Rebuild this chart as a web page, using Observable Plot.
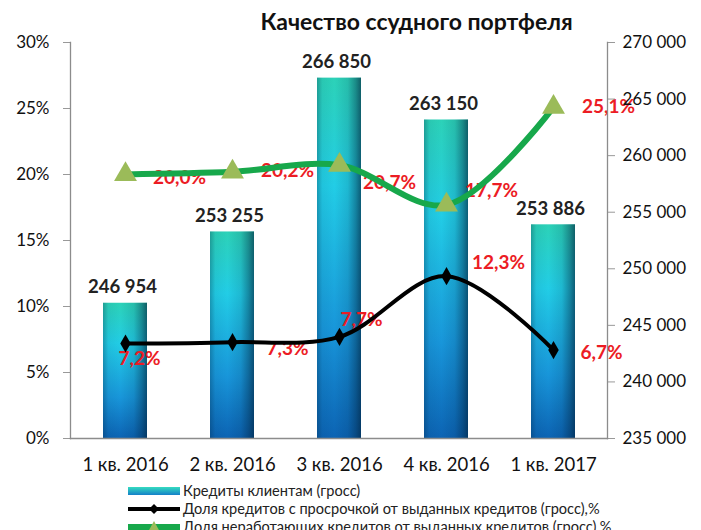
<!DOCTYPE html>
<html><head><meta charset="utf-8">
<script src="https://cdn.jsdelivr.net/npm/d3@7"></script>
<script src="https://cdn.jsdelivr.net/npm/@observablehq/plot@0.6"></script>
<style>
html,body{margin:0;padding:0;background:#fff;}
body{width:701px;height:530px;overflow:hidden;font-family:Lato,"Open Sans",sans-serif;color:#111;position:relative}
#title{position:absolute;left:0;top:7px;width:701px;text-align:center;padding-left:132px;box-sizing:border-box;font-weight:bold;font-size:23px;line-height:28px;color:#111}
#chart{position:absolute;left:0;top:30px}
#legend{position:absolute;left:128px;top:482px;font-size:14.6px;line-height:18px;color:#222}
.li{display:flex;align-items:center;height:18px}
.li svg{margin-right:3px}
</style></head><body>
<div id="title">Качество ссудного портфеля</div>
<div id="chart"></div>
<div id="legend"></div>
<script>
const quarters = ["1 кв. 2016","2 кв. 2016","3 кв. 2016","4 кв. 2016","1 кв. 2017"];
const loans = [246954, 253255, 266850, 263150, 253886];
const overdueShare = [7.2, 7.3, 7.7, 12.3, 6.7];
const npShare = [20.0, 20.2, 20.7, 17.7, 25.1];
const leftTicks = [0, 5, 10, 15, 20, 25, 30];
const rightTicks = [235000, 240000, 245000, 250000, 255000, 260000, 265000, 270000];
const seriesNames = ["Кредиты клиентам (гросс)", "Доля кредитов с просрочкой от выданных кредитов (гросс),%", "Доля неработающих кредитов от выданных кредитов (гросс),%"];

const rMin = 235000, rMax = 270000, lMax = 30;
const toLeft = v => (v - rMin) / (rMax - rMin) * lMax;
const fromLeft = t => Math.round(t / lMax * (rMax - rMin) + rMin);
const fmtThousands = n => String(n).replace(/\B(?=(\d{3})+(?!\d))/g, " ");
const fmtPct = v => v.toFixed(1).replace(".", ",") + "%";

const data = quarters.map((q, i) => ({q, i, loans: loans[i], od: overdueShare[i], np: npShare[i]}));
const pick = k => data.filter(d => d.i === k);

const red = "#ec1c24";
const lblFont = {fill: red, fontWeight: "bold", fontSize: 19};

const odOffsets = [[14,15],[55,7],[22,-17],[52,-13],[48,3]];
const npOffsets = [[54,3],[55,-1],[50,18],[45,-14],[55,0]];

const marks = [
  Plot.barY(data, {x: "q", y1: 0, y2: d => toLeft(d.loans), fill: "url(#barGrad)"}),
  Plot.barY(data, {x: "q", y1: 0, y2: d => toLeft(d.loans), fill: "url(#barShade)"}),
  Plot.text(data, {x: "q", y: d => toLeft(d.loans), text: d => fmtThousands(d.loans), dx: -3, dy: -16, fontWeight: "bold", fontSize: 18.5, fill: "#222"}),
  ...npOffsets.map((o, k) => Plot.text(pick(k), {x: "q", y: "np", text: d => fmtPct(d.np), dx: o[0], dy: o[1], ...lblFont})),
  Plot.line(data, {x: "q", y: "np", stroke: "#17a84b", strokeWidth: 6, curve: "catmull-rom"}),
  Plot.dot(data, {x: "q", y: "np", symbol: "triangle", r: 8.5, fill: "#9bbb59", stroke: "none"}),
  ...odOffsets.map((o, k) => Plot.text(pick(k), {x: "q", y: "od", text: d => fmtPct(d.od), dx: o[0], dy: o[1], ...lblFont})),
  Plot.line(data, {x: "q", y: "od", stroke: "#000", strokeWidth: 4, curve: "catmull-rom"}),
  Plot.dot(data, {x: "q", y: "od", symbol: "diamond", r: 5.5, fill: "#000", stroke: "none"}),
  Plot.axisY(leftTicks, {anchor: "left", tickFormat: d => d + "%", tickSize: 7, tickPadding: 14, fontSize: 17, stroke: "#999", fill: "#111"}),
  Plot.axisY(rightTicks.map(toLeft), {anchor: "right", tickFormat: t => fmtThousands(fromLeft(t)), tickSize: 7, tickPadding: 8, fontSize: 17, stroke: "#999", fill: "#111"}),
  Plot.axisX({tickSize: 0, tickPadding: 19, fontSize: 18.5, fill: "#111"}),
  Plot.frame({anchor: "left", stroke: "#8c8c8c", strokeWidth: 1.3}),
  Plot.frame({anchor: "right", stroke: "#8c8c8c", strokeWidth: 1.3}),
  Plot.frame({anchor: "bottom", stroke: "#8c8c8c", strokeWidth: 1.3})
];

const chart = Plot.plot({
  width: 701, height: 450,
  marginLeft: 70, marginRight: 94, marginTop: 12, marginBottom: 42,
  style: {fontFamily: "Lato, 'Open Sans', sans-serif", background: "transparent", overflow: "visible"},
  x: {domain: quarters, paddingInner: 0.59, paddingOuter: 0.295, label: null},
  y: {domain: [0, lMax], label: null},
  marks
});

const svg = d3.select(chart);
const defs = svg.insert("defs", ":first-child");
const g1 = defs.append("linearGradient").attr("id", "barGrad").attr("x1", 0).attr("y1", 0).attr("x2", 0).attr("y2", 1);
[["0%", "#2cd2b8"], ["30%", "#22cde6"], ["70%", "#1896da"], ["100%", "#0c64b4"]].forEach(([o, c]) => g1.append("stop").attr("offset", o).attr("stop-color", c));
const g2 = defs.append("linearGradient").attr("id", "barShade").attr("x1", 0).attr("y1", 0).attr("x2", 1).attr("y2", 0);
[["0%", 0.3], ["12%", 0.06], ["40%", 0], ["70%", 0.12], ["88%", 0.4], ["100%", 0.65]].forEach(([o, a]) => g2.append("stop").attr("offset", o).attr("stop-color", "#00203a").attr("stop-opacity", a));
document.getElementById("chart").appendChild(chart);

const swatches = [
  `<svg width="52" height="10"><defs><linearGradient id="lg0" x1="0" y1="0" x2="0" y2="1"><stop offset="0" stop-color="#35dcc0"/><stop offset="1" stop-color="#1480c8"/></linearGradient></defs><rect x="0" y="1" width="52" height="8" fill="url(#lg0)"/></svg>`,
  `<svg width="52" height="10"><line x1="0" y1="5" x2="52" y2="5" stroke="#000" stroke-width="4"/><path d="M26 0L31 5L26 10L21 5Z" fill="#000"/></svg>`,
  `<svg width="52" height="12"><line x1="0" y1="6" x2="52" y2="6" stroke="#17a84b" stroke-width="6"/><path d="M26 0L32 11L20 11Z" fill="#9bbb59"/></svg>`
];
document.getElementById("legend").innerHTML = seriesNames.map((n, i) => `<div class="li">${swatches[i]}<span>${n}</span></div>`).join("");
</script>
</body></html>
